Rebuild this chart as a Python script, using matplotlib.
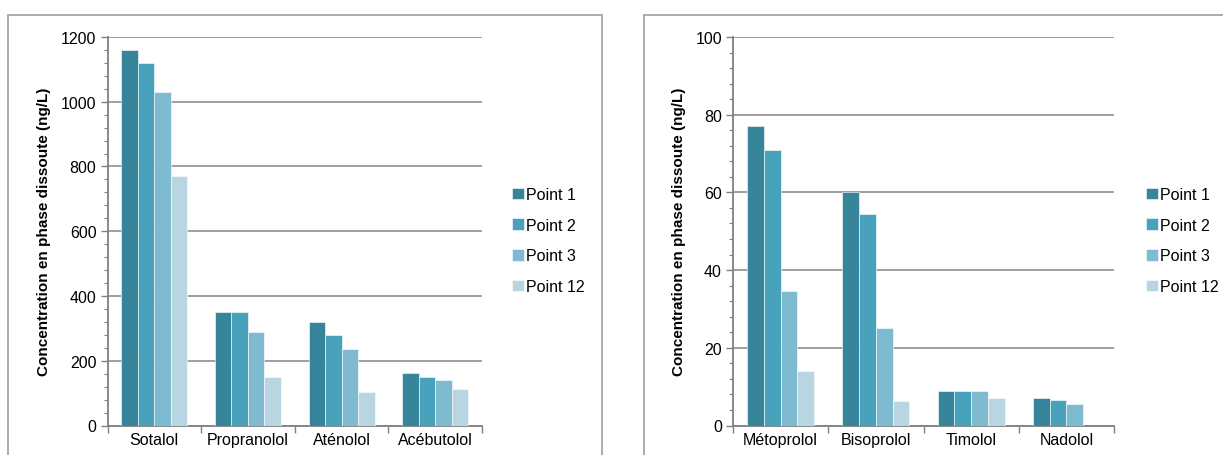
import matplotlib
matplotlib.use("Agg")
import matplotlib.pyplot as plt
import numpy as np
from matplotlib.patches import Rectangle
from matplotlib.ticker import MultipleLocator

plt.rcParams['font.family'] = ['Liberation Sans', 'DejaVu Sans']

series = ["Point 1", "Point 2", "Point 3", "Point 12"]
colors = ["#37859A", "#48A2BB", "#7EBBD0", "#B7D6E1"]

left_cats = ["Sotalol", "Propranolol", "Aténolol", "Acébutolol"]
left_vals = [
    [1160, 350, 320, 162],
    [1120, 350, 278, 150],
    [1030, 290, 235, 140],
    [770, 150, 105, 112],
]

right_cats = ["Métoprolol", "Bisoprolol", "Timolol", "Nadolol"]
right_vals = [
    [77, 60, 8.8, 7.0],
    [71, 54.5, 9.0, 6.5],
    [34.7, 25, 9.0, 5.5],
    [14, 6.2, 7.0, 0],
]

ylabel = "Concentration en phase dissoute (ng/L)"

W, H = 1223, 456
fig = plt.figure(figsize=(W / 100, H / 100), dpi=100)

# panel frames
for x0, x1 in [(8, 602), (644, 1240)]:
    fig.patches.append(Rectangle((x0 / W, -0.1), (x1 - x0) / W, (H - 15.5) / H + 0.1,
                                 transform=fig.transFigure, fill=False,
                                 edgecolor="#A6A6A6", linewidth=1.3))

bottom = (H - 426.5) / H
top = (H - 38) / H
leg_y = (H - 241.5) / H


def panel(ax_rect, cats, vals, ymax, major, minor, leg_px):
    ax = fig.add_axes(ax_rect)
    n = len(cats)
    x = np.arange(n)
    bw = 0.176
    for i, (s, c) in enumerate(zip(series, colors)):
        ax.bar(x + (i - 1.5) * bw, vals[i], width=bw, color=c, edgecolor="white",
               linewidth=0.4, label=s, zorder=3)
    ax.set_xlim(-0.5, n - 0.5)
    ax.set_ylim(0, ymax)
    ax.yaxis.set_major_locator(MultipleLocator(major))
    ax.yaxis.set_minor_locator(MultipleLocator(minor))
    ax.grid(axis="y", which="major", color="#858585", linewidth=1.1, zorder=0)
    for sp in ["top", "right"]:
        ax.spines[sp].set_visible(False)
    for sp in ["left", "bottom"]:
        ax.spines[sp].set_color("#808080")
        ax.spines[sp].set_linewidth(1.3)
    ax.set_xticks(x)
    ax.set_xticklabels(cats, fontsize=11.5)
    ax.set_xticks(np.arange(n + 1) - 0.5, minor=True)
    ax.tick_params(axis="x", which="major", length=0, pad=5)
    ax.tick_params(axis="x", which="minor", length=5, color="#808080", width=1.0, direction="out")
    ax.tick_params(axis="y", which="major", length=5, color="#808080", width=1.0, labelsize=11.5, pad=3)
    ax.tick_params(axis="y", which="minor", length=3, color="#808080", width=0.8)
    ax.set_ylabel(ylabel, fontsize=11, fontweight="bold", labelpad=7)
    ax.legend(loc="center left", bbox_to_anchor=(leg_px / W, leg_y),
              bbox_transform=fig.transFigure, frameon=False, borderpad=0, borderaxespad=0,
              fontsize=11.5, handlelength=0.75, handleheight=0.75, handletextpad=0.15,
              labelspacing=0.98)
    return ax


panel([107.5 / W, bottom, (482 - 107.5) / W, top - bottom], left_cats, left_vals, 1200, 200, 40, 512)
panel([733 / W, bottom, (1114 - 733) / W, top - bottom], right_cats, right_vals, 100, 20, 4, 1146)

fig.savefig("out.png", dpi=100)
